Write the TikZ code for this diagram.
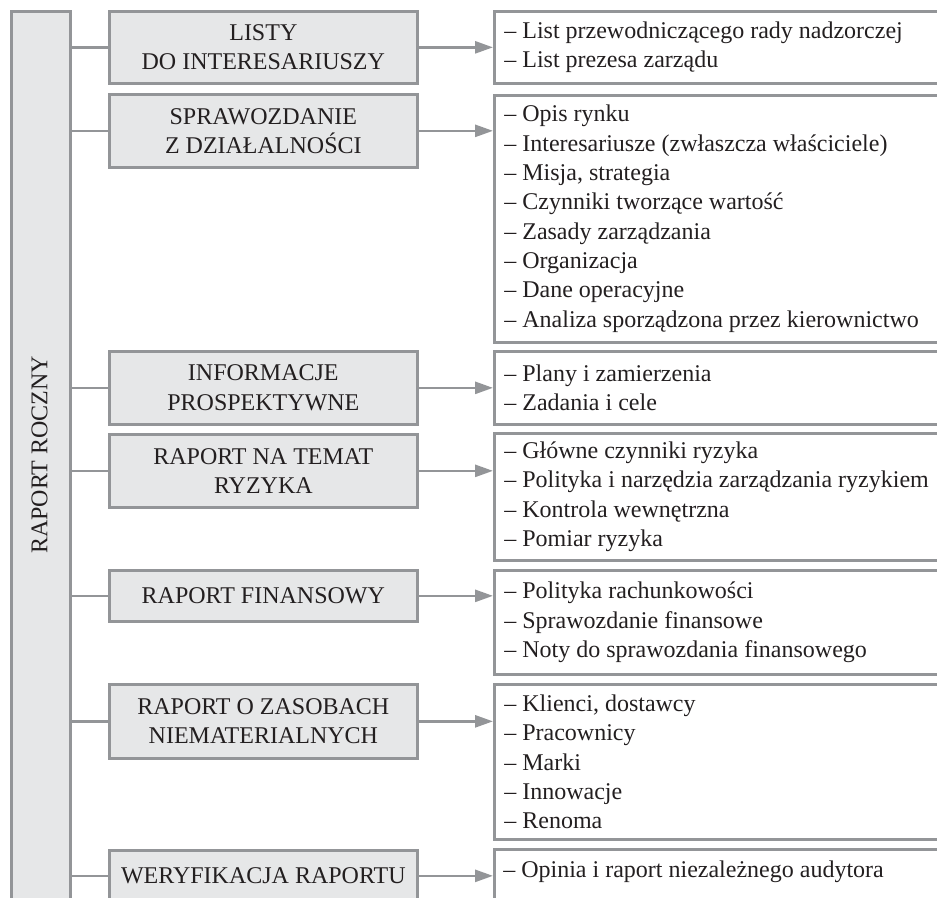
\documentclass[tikz,border=0pt]{standalone}
\usepackage{fontspec}
\setmainfont{Liberation Serif}
\usetikzlibrary{arrows.meta}
\definecolor{boxfill}{HTML}{E6E7E8}
\definecolor{boxline}{HTML}{939598}
\definecolor{txt}{HTML}{231F20}
\begin{document}
\begin{tikzpicture}[x=0.75pt,y=-0.75pt,
  every node/.style={font=\fontsize{18}{22}\selectfont, text=txt, inner sep=0pt,
    execute at begin node={\spaceskip=0pt\xspaceskip=0pt\relax}},
  midbox/.style={draw=boxline, line width=2pt, fill=boxfill, minimum width=231pt, minimum height=54.75pt, align=center, anchor=north west},
  rbox/.style={draw=boxline, line width=2pt, fill=white, anchor=north west, minimum width=350.25pt, text width=335.25pt, align=left, inner xsep=7.5pt},
  link/.style={draw=boxline, line width=2pt},
  arr/.style={draw=boxline, line width=2pt, -{Triangle[length=13.5pt,width=9pt]}}
]
\useasboundingbox (0,0) rectangle (937,897);
\fill[white] (0,0) rectangle (937,897);
\clip (0,0) rectangle (937,897);

% left column
\node[draw=boxline, line width=2pt, fill=boxfill, anchor=north west, minimum width=44.25pt, minimum height=675pt] (lbox) at (10,10) {};
\node[rotate=90] (lboxt) at (39.5,455) {RAPORT ROCZNY};

% middle boxes
\node[midbox, minimum height=54pt] (m1) at (108,10) {LISTY\\DO INTERESARIUSZY};
\node[midbox] (m2) at (108,93) {SPRAWOZDANIE\\Z DZIAŁALNOŚCI};
\node[midbox] (m3) at (108,350) {INFORMACJE\\PROSPEKTYWNE};
\node[midbox] (m4) at (108,433) {RAPORT NA TEMAT\\RYZYKA};
\node[midbox, minimum height=38.25pt] (m5) at (108,569) {RAPORT FINANSOWY};
\node[midbox, minimum height=55.5pt] (m6) at (108,683) {RAPORT O ZASOBACH\\NIEMATERIALNYCH};
\node[midbox, minimum height=38.25pt] (m7) at (108,849) {WERYFIKACJA RAPORTU};

% right boxes
\node[rbox, minimum height=54pt] (r1) at (493,10) {– List przewodniczącego rady nadzorczej\\– List prezesa zarządu};
\node[rbox, minimum height=185.25pt] (r2) at (493,94) {– Opis rynku\\– Interesariusze (zwłaszcza właściciele)\\– Misja, strategia\\– Czynniki tworzące wartość\\– Zasady zarządzania\\– Organizacja\\– Dane operacyjne\\– Analiza sporządzona przez kierownictwo};
\node[rbox, minimum height=54.75pt] (r3) at (493,350) {– Plany i zamierzenia\\– Zadania i cele};
\node[rbox, minimum height=95.25pt] (r4) at (493,432) {– Główne czynniki ryzyka\\– Polityka i narzędzia zarządzania ryzykiem\\– Kontrola wewnętrzna\\– Pomiar ryzyka};
\node[rbox, minimum height=78pt] (r5) at (493,569) {– Polityka rachunkowości\\– Sprawozdanie finansowe\\– Noty do sprawozdania finansowego};
\node[rbox, minimum height=116.25pt] (r6) at (493,683) {– Klienci, dostawcy\\– Pracownicy\\– Marki\\– Innowacje\\– Renoma};
\node[rbox, minimum height=54.75pt] (r7) at (493,848) {};
\node[anchor=base west] (r7t) at (503,877) {– Opinia i raport niezależnego audytora};

% connectors
\foreach \m in {m1,m2,m3,m4,m5,m6,m7}{
  \draw[link] (lbox.east |- \m.west) -- (\m.west);
}
\foreach \m/\r in {m1/r1,m2/r2,m3/r3,m4/r4,m5/r5,m6/r6,m7/r7}{
  \draw[arr] (\m.east) -- (\m.east -| \r.west);
}
\end{tikzpicture}
\end{document}
